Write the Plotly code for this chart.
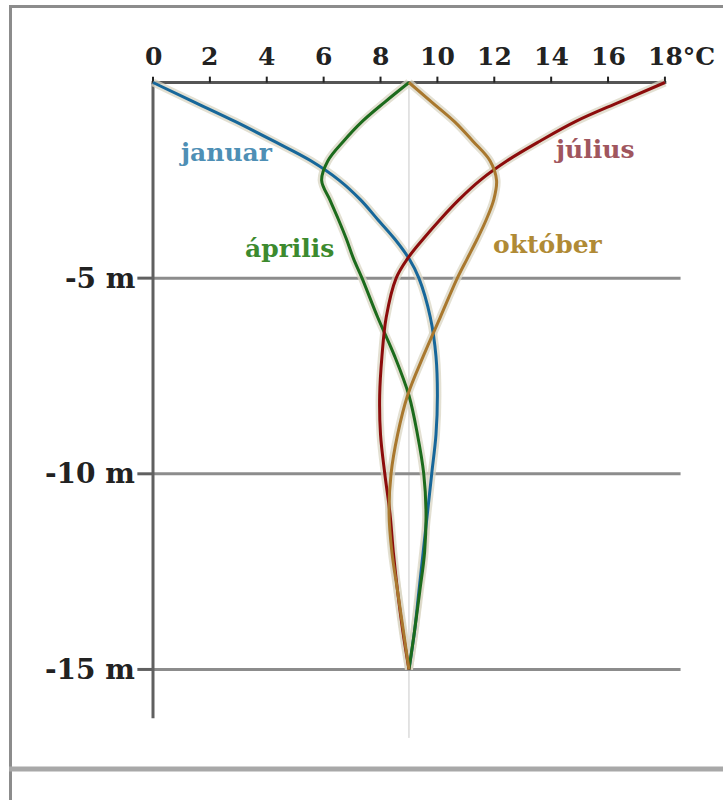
import plotly.graph_objects as go

# ---- data ----
depth_m = [0, -0.5, -1, -1.5, -2, -2.5, -3, -3.5, -4, -4.5, -5, -6, -7, -8,
           -9, -10, -11, -12, -13, -14, -15]
temp_januar = [0.0, 1.45, 2.9, 4.25, 5.55, 6.55, 7.3, 7.9, 8.5, 9.0, 9.35, 9.75,
               9.95, 10.0, 9.95, 9.8, 9.65, 9.5, 9.35, 9.2, 9.0]
temp_aprilis = [9.0, 8.15, 7.35, 6.7, 6.15, 5.93, 6.22, 6.52, 6.8, 7.05, 7.35,
                7.9, 8.5, 9.0, 9.3, 9.52, 9.6, 9.55, 9.38, 9.2, 9.0]
temp_julius = [18.0, 16.4, 14.85, 13.6, 12.45, 11.5, 10.75, 10.1, 9.5, 8.95,
               8.55, 8.2, 8.05, 7.97, 8.0, 8.15, 8.33, 8.45, 8.6, 8.78, 9.0]
temp_oktober = [9.0, 9.8, 10.6, 11.25, 11.85, 12.08, 11.98, 11.72, 11.4, 11.05,
                10.7, 10.1, 9.5, 8.95, 8.6, 8.37, 8.3, 8.4, 8.6, 8.8, 9.0]
mean_temp = 9.0

series_names = ["januar", "április", "július", "október"]
x_ticks = [0, 2, 4, 6, 8, 10, 12, 14, 16, 18]
x_tick_labels = ["0", "2", "4", "6", "8", "10", "12", "14", "16", "18°C"]
y_ticks = [-5, -10, -15]
y_tick_labels = ["-5 m", "-10 m", "-15 m"]

# ---- styling ----
W, H = 723, 800
X0_PX, PX_PER_DEG = 153.0, 28.44
Y0_PX, PX_PER_M = 82.5, 39.13
x_range = [-X0_PX / PX_PER_DEG, (W - X0_PX) / PX_PER_DEG]
y_range = [-(H - Y0_PX) / PX_PER_M, Y0_PX / PX_PER_M]

line_colors = ["#17679a", "#1c6b1c", "#8c0c0c", "#a9782e"]
label_colors = ["#4e8fb5", "#3c8a2e", "#a0565e", "#b08a35"]
label_pos = [(2.57, -1.78), (4.8, -4.23), (15.5, -1.72), (13.9, -4.15)]
FONT = "DejaVu Serif"

fig = go.Figure()

series = [temp_januar, temp_aprilis, temp_julius, temp_oktober]

# faint annual-mean line
fig.add_trace(go.Scatter(x=[mean_temp, mean_temp], y=[0, -16.75], mode="lines",
                         line=dict(color="#c9c9c9", width=1), hoverinfo="skip"))

# grid lines at depth ticks
for yv in y_ticks:
    fig.add_trace(go.Scatter(x=[0, 18.55], y=[yv, yv], mode="lines",
                             line=dict(color="#8c8c8c", width=3), hoverinfo="skip"))
    fig.add_trace(go.Scatter(x=[-0.55, 0], y=[yv, yv], mode="lines",
                             line=dict(color="#606060", width=3), hoverinfo="skip"))

# axes lines
fig.add_trace(go.Scatter(x=[0, 0], y=[0, -16.25], mode="lines",
                         line=dict(color="#606060", width=3), hoverinfo="skip"))
fig.add_trace(go.Scatter(x=[-0.05, 18.05], y=[0, 0], mode="lines",
                         line=dict(color="#555555", width=3), hoverinfo="skip"))
for xv in x_ticks:
    fig.add_trace(go.Scatter(x=[xv, xv], y=[0, 0.15], mode="lines",
                             line=dict(color="#222222", width=2), hoverinfo="skip"))

# halos
for t in series:
    fig.add_trace(go.Scatter(x=t, y=depth_m, mode="lines",
                             line=dict(color="rgba(218,213,195,0.75)", width=8,
                                       shape="spline", smoothing=1.0),
                             hoverinfo="skip"))
# curves
for name, t, c in zip(series_names, series, line_colors):
    fig.add_trace(go.Scatter(x=t, y=depth_m, mode="lines", name=name,
                             line=dict(color=c, width=3, shape="spline",
                                       smoothing=1.0)))

annotations = []
for xv, lab in zip(x_ticks, x_tick_labels):
    if lab.endswith("°C"):
        annotations.append(dict(x=xv, y=0.66, text=lab, showarrow=False,
                                xanchor="left", yanchor="middle", xshift=-19,
                                font=dict(family=FONT, size=25, color="#222",
                                          weight="bold")))
    else:
        annotations.append(dict(x=xv, y=0.66, text=lab, showarrow=False,
                                xanchor="center", yanchor="middle",
                                font=dict(family=FONT, size=25, color="#222",
                                          weight="bold")))
for yv, lab in zip(y_ticks, y_tick_labels):
    annotations.append(dict(x=0, y=yv, text=lab, showarrow=False,
                            xanchor="right", yanchor="middle", xshift=-16,
                            font=dict(family=FONT, size=28, color="#222",
                                      weight="bold")))
for name, (lx, ly), c in zip(series_names, label_pos, label_colors):
    annotations.append(dict(x=lx, y=ly, text=name, showarrow=False,
                            xanchor="center", yanchor="middle",
                            font=dict(family=FONT, size=25, color=c,
                                      weight="bold")))

shapes = [
    dict(type="line", xref="paper", yref="paper", x0=10.5 / W, x1=10.5 / W,
         y0=0, y1=1 - 5 / H, line=dict(color="#8c8c8c", width=3)),
    dict(type="line", xref="paper", yref="paper", x0=9 / W, x1=1,
         y0=1 - 6.5 / H, y1=1 - 6.5 / H, line=dict(color="#8c8c8c", width=3)),
    dict(type="line", xref="paper", yref="paper", x0=9 / W, x1=1,
         y0=1 - 769 / H, y1=1 - 769 / H, line=dict(color="#a8a8a8", width=5)),
]

fig.update_layout(
    width=W, height=H,
    margin=dict(l=0, r=0, t=0, b=0, pad=0),
    paper_bgcolor="white", plot_bgcolor="white",
    showlegend=False,
    xaxis=dict(range=x_range, visible=False, fixedrange=True),
    yaxis=dict(range=y_range, visible=False, fixedrange=True),
    annotations=annotations,
    shapes=shapes,
)

fig.write_html("out.html", config={"displayModeBar": False},
               post_script="document.body.style.margin='0px';")
